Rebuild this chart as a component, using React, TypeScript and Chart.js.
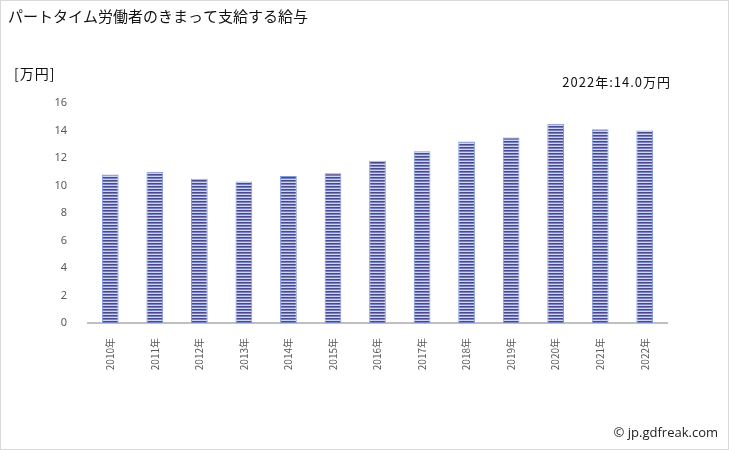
import React, { useEffect, useRef } from "react";
import { Chart, registerables } from "chart.js";

Chart.register(...registerables);

const title = "パートタイム労働者のきまって支給する給与";
const unitLabel = "[万円]";
const noteLabel = "2022年:14.0万円";
const copyright = "© jp.gdfreak.com";
const categories = [
  "2010年", "2011年", "2012年", "2013年", "2014年", "2015年", "2016年",
  "2017年", "2018年", "2019年", "2020年", "2021年", "2022年",
];
const values = [10.8, 11.0, 10.5, 10.3, 10.7, 10.9, 11.8, 12.5, 13.2, 13.5, 14.5, 14.1, 14.0];
const yMin = 0;
const yMax = 16;
const yStep = 2;

function makePattern(): CanvasPattern | string {
  const c = document.createElement("canvas");
  c.width = 4;
  c.height = 3;
  const g = c.getContext("2d");
  if (!g) return "#6f76c0";
  g.fillStyle = "#4e4888";
  g.fillRect(0, 0, 4, 1);
  g.fillStyle = "#7480c8";
  g.fillRect(0, 1, 4, 1);
  g.fillStyle = "#cdd4f2";
  g.fillRect(0, 2, 4, 1);
  const p = g.createPattern(c, "repeat");
  return p || "#6f76c0";
}

const textPlugin = {
  id: "textPlugin",
  afterDraw(chart: any) {
    const ctx = chart.ctx as any;
    ctx.save();
    ctx.textBaseline = "middle";
    ctx.fillStyle = "#111";
    ctx.font = '15px "Noto Sans CJK JP"';
    ctx.textAlign = "left";
    ctx.fillText(title, 8, 16);
    ctx.font = '14px "Noto Sans CJK JP"';
    ctx.letterSpacing = "1px";
    ctx.fillText(unitLabel, 14, 74);
    ctx.font = '13px "Noto Sans CJK JP"';
    ctx.textAlign = "right";
    ctx.fillText(noteLabel, 671, 82);
    ctx.letterSpacing = "0px";
    ctx.font = '13px "Open Sans"';
    ctx.fillStyle = "#222";
    ctx.fillText(copyright, 718, 433);
    ctx.strokeStyle = "#d9d9d9";
    ctx.lineWidth = 1;
    ctx.strokeRect(0.5, 0.5, 728, 449);
    ctx.restore();
  },
};

export default function App() {
  const ref = useRef<HTMLCanvasElement>(null);
  useEffect(() => {
    document.body.style.margin = "0";
    const canvas = ref.current;
    if (!canvas) return;
    const chart = new Chart(canvas, {
      type: "bar",
      data: {
        labels: categories,
        datasets: [
          {
            data: values,
            backgroundColor: makePattern() as any,
            borderColor: "#7f9bd9",
            borderWidth: 1,
            barPercentage: 0.375,
            categoryPercentage: 1,
          },
        ],
      },
      options: {
        responsive: false,
        animation: false,
        layout: { padding: { left: 0, right: 62, top: 103, bottom: 0 } },
        plugins: {
          legend: { display: false },
          title: { display: false },
          tooltip: { enabled: false },
        },
        scales: {
          x: {
            grid: { display: false },
            border: { display: true, color: "#bfbfbf", width: 2 },
            ticks: {
              color: "#595959",
              font: { size: 10, family: '"Noto Sans CJK JP"' },
              maxRotation: 90,
              minRotation: 90,
              padding: 7,
              autoSkip: false,
            },
            afterFit(scale: any) {
              scale.height = 127;
            },
          },
          y: {
            min: yMin,
            max: yMax,
            grid: { display: false },
            border: { display: false },
            ticks: {
              stepSize: yStep,
              color: "#595959",
              font: { size: 11, family: '"Noto Sans"' },
              padding: 13,
            },
            afterFit(scale: any) {
              scale.width = 88;
            },
          },
        },
      },
      plugins: [textPlugin],
    });
    return () => chart.destroy();
  }, []);
  return (
    <div style={{ width: 729, height: 450 }}>
      <canvas ref={ref} width={729} height={450} />
    </div>
  );
}
